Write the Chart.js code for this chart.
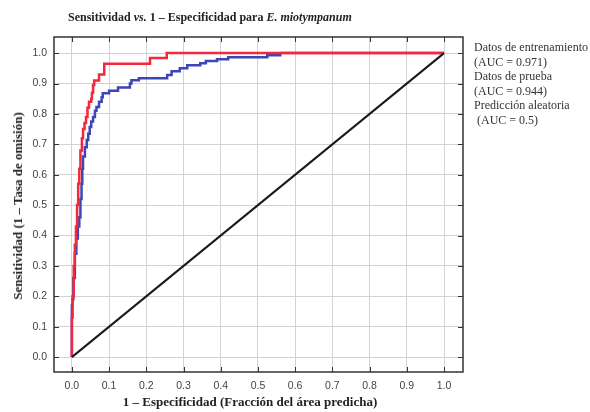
<!DOCTYPE html>
<html lang="es">
<head>
  <meta charset="UTF-8" />
  <title>Sensitividad vs. 1 - Especificidad</title>
  <script src="https://cdn.jsdelivr.net/npm/chart.js"></script>
  <style>
    body { margin: 0; background: #fff; }
    #wrap { position: relative; width: 590px; height: 412px; overflow: hidden; }
    .serif { font-family: "Liberation Serif", "DejaVu Serif", serif; color: #222; position: absolute; white-space: nowrap; }
    #title { left: 68px; top: 10px; font-size: 12px; font-weight: bold; }
    #ytitle { left: 18px; top: 206px; font-size: 13px; font-weight: bold; transform: translate(-50%, -50%) rotate(-90deg); }
    #xtitle { left: 250px; top: 394px; font-size: 13px; font-weight: bold; transform: translateX(-50%); }
    #legend { left: 474px; top: 40px; font-size: 12px; line-height: 14.6px; color: #333; }
  </style>
</head>
<body>
<div id="wrap">
  <canvas id="roc" width="590" height="412"></canvas>
  <div id="title" class="serif">Sensitividad <i>vs.</i> 1 – Especificidad para <i>E. miotympanum</i></div>
  <div id="ytitle" class="serif">Sensitividad (1 – Tasa de omisión)</div>
  <div id="xtitle" class="serif">1 – Especificidad (Fracción del área predicha)</div>
  <div id="legend" class="serif">
    Datos de entrenamiento<br>(AUC = 0.971)<br>Datos de prueba<br>(AUC = 0.944)<br>Predicción aleatoria<br>&nbsp;(AUC = 0.5)
  </div>
</div>

<script>
// ticks
const axisTicks = [0, 0.1, 0.2, 0.3, 0.4, 0.5, 0.6, 0.7, 0.8, 0.9, 1.0];
const tickLabels = ['0.0', '0.1', '0.2', '0.3', '0.4', '0.5', '0.6', '0.7', '0.8', '0.9', '1.0'];

// training data (red) - at each x the sensitivity steps up to y
const trainFpr = [0, 0, 0.002, 0.005, 0.008, 0.011, 0.014, 0.017, 0.020, 0.023, 0.027, 0.030, 0.034, 0.038, 0.042, 0.046, 0.052, 0.054, 0.057, 0.060, 0.073, 0.087, 0.210, 0.255, 1.0];
const trainTpr = [0, 0.13, 0.20, 0.30, 0.37, 0.43, 0.50, 0.57, 0.62, 0.68, 0.72, 0.75, 0.77, 0.79, 0.82, 0.84, 0.85, 0.87, 0.895, 0.91, 0.93, 0.965, 0.984, 1.0, 1.0];

// test data (blue)
const testFpr = [0, 0, 0.002, 0.004, 0.008, 0.012, 0.016, 0.020, 0.023, 0.026, 0.028, 0.030, 0.035, 0.040, 0.044, 0.048, 0.052, 0.057, 0.062, 0.066, 0.073, 0.080, 0.083, 0.100, 0.124, 0.156, 0.160, 0.180, 0.256, 0.268, 0.290, 0.310, 0.345, 0.360, 0.390, 0.420, 0.525, 0.560, 1.0];
const testTpr = [0, 0.17, 0.19, 0.26, 0.34, 0.39, 0.43, 0.46, 0.52, 0.57, 0.62, 0.66, 0.69, 0.714, 0.735, 0.757, 0.775, 0.79, 0.81, 0.823, 0.84, 0.855, 0.868, 0.876, 0.887, 0.90, 0.911, 0.917, 0.928, 0.94, 0.95, 0.96, 0.967, 0.974, 0.98, 0.986, 0.993, 1.0, 1.0];

// random prediction
const randomFpr = [0, 1];
const randomTpr = [0, 1];

const toPoints = (xs, ys) => xs.map((x, i) => ({ x: x, y: ys[i] }));

const frameTicks = {
  id: 'frameTicks',
  afterDatasetsDraw(chart) {
    const { ctx, chartArea: a, scales } = chart;
    ctx.save();
    ctx.strokeStyle = '#333';
    ctx.lineWidth = 1;
    ctx.beginPath();
    axisTicks.forEach(v => {
      const px = Math.round(scales.x.getPixelForValue(v)) + 0.5;
      ctx.moveTo(px, a.bottom); ctx.lineTo(px, a.bottom - 5);
      ctx.moveTo(px, a.top); ctx.lineTo(px, a.top + 5);
      const py = Math.round(scales.y.getPixelForValue(v)) + 0.5;
      ctx.moveTo(a.left, py); ctx.lineTo(a.left + 5, py);
      ctx.moveTo(a.right, py); ctx.lineTo(a.right - 5, py);
    });
    ctx.stroke();
    ctx.lineWidth = 1.5;
    ctx.strokeRect(a.left, a.top, a.right - a.left, a.bottom - a.top);
    ctx.restore();
  }
};

const tickFont = { family: '"Liberation Sans", Arial, sans-serif', size: 10.5 };

new Chart(document.getElementById('roc').getContext('2d'), {
  type: 'scatter',
  data: {
    datasets: [
      {
        label: 'Predicción aleatoria',
        data: toPoints(randomFpr, randomTpr),
        showLine: true, borderColor: '#1a1a1a', borderWidth: 2, pointRadius: 0
      },
      {
        label: 'Datos de entrenamiento',
        data: toPoints(trainFpr, trainTpr),
        showLine: true, stepped: true, borderColor: '#f2283c', borderWidth: 2.5, pointRadius: 0
      },
      {
        label: 'Datos de prueba',
        data: toPoints(testFpr, testTpr),
        showLine: true, stepped: true, borderColor: '#3c46b4', borderWidth: 2.5, pointRadius: 0,
        segment: {
          // where the test curve lies on the training curve at 1.0 the lines blend
          borderColor: c => c.p0.parsed.y >= 1 ? '#d82a6e' : '#3c46b4'
        }
      }
    ]
  },
  options: {
    responsive: false,
    animation: false,
    layout: { padding: { top: 37, right: 127, left: 0, bottom: 0 } },
    plugins: { legend: { display: false }, tooltip: { enabled: false }, title: { display: false } },
    scales: {
      x: {
        type: 'linear', min: -0.048, max: 1.051,
        afterBuildTicks: s => { s.ticks = axisTicks.map(v => ({ value: v })); },
        afterFit: s => { s.height = 40; },
        grid: { color: '#d2d2d2', drawTicks: false },
        border: { display: false },
        ticks: { padding: 8, color: '#444', font: tickFont, callback: (v, i) => tickLabels[i] }
      },
      y: {
        type: 'linear', min: -0.049, max: 1.053,
        afterBuildTicks: s => { s.ticks = axisTicks.map(v => ({ value: v })); },
        afterFit: s => { s.width = 54; },
        grid: { color: '#d2d2d2', drawTicks: false },
        border: { display: false },
        ticks: { padding: 7, color: '#444', font: tickFont, callback: (v, i) => tickLabels[i] }
      }
    }
  },
  plugins: [frameTicks]
});
</script>
</body>
</html>
